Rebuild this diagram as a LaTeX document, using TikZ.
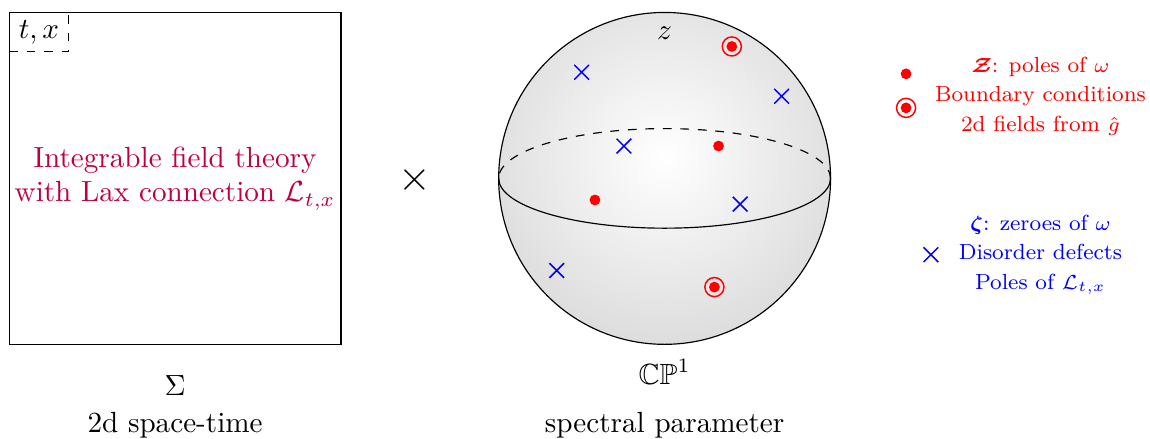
\documentclass[tikz,border=0pt]{standalone}
\usepackage{amsmath,amssymb,bm}
\usepackage{xcolor}
\usepackage{tikz}
\usetikzlibrary{shapes.misc}
\definecolor{IFTPurple}{HTML}{BF0040}
\definecolor{IFTRed}{HTML}{FF0000}
\definecolor{IFTBlue}{HTML}{0000FF}
\definecolor{IFTShade}{HTML}{DCDCDC}

\begin{document}
\begin{tikzpicture}[x=1cm,y=1cm,
  defect/.style={cross out,draw=IFTBlue,inner sep=0pt,minimum size=0.16cm,line width=0.5pt},
  pole/.style={circle,fill=IFTRed,inner sep=0pt,minimum size=0.13cm},
  bdry/.style={circle,draw=IFTRed,inner sep=0pt,minimum size=0.23cm,line width=0.5pt,
    path picture={\fill[IFTRed] (path picture bounding box.center) circle (0.065);}},
  legend/.style={align=center,font=\fontsize{7.5}{10.1}\selectfont}]
\path[use as bounding box] (0,0) rectangle (13.86,5.28);
\node[draw,inner sep=1pt,minimum width=4cm,minimum height=4cm,align=center,text=IFTPurple] (sigma) at (2.11,3.13) {Integrable field theory\\with Lax connection $\mathcal{L}_{t,x}$};
\node[draw,dashed,inner ysep=2.7pt,anchor=north west] (tx) at (sigma.north west) {$t,x$};
\node[anchor=base] (sigmalbl) at (2.11,0.51) {$\Sigma$};
\node[anchor=base] (sigmatxt) at (2.11,0.07) {2d space-time};
\node (times) at (5.00,3.11) {\Large$\times$};
\coordinate (cp) at (8.01,3.13);
\begin{scope}
\clip (cp) circle (2);
\shade[inner color=white,outer color=IFTShade] ([yshift=0.25cm]cp) circle (2.3);
\end{scope}
\draw (cp) circle (2);
\draw[dashed] ([xshift=2cm]cp) arc[start angle=0,end angle=180,x radius=2,y radius=0.6];
\draw ([xshift=-2cm]cp) arc[start angle=180,end angle=360,x radius=2,y radius=0.6];
\node[anchor=base] (zlbl) at (8.01,4.80) {$z$};
\node[defect] (d1) at (7.01,4.41) {};
\node[defect] (d2) at (9.42,4.12) {};
\node[defect] (d3) at (7.52,3.52) {};
\node[defect] (d4) at (8.92,2.82) {};
\node[defect] (d5) at (6.71,2.02) {};
\node[pole] (p1) at (8.66,3.52) {};
\node[pole] (p2) at (7.17,2.87) {};
\node[bdry] (b1) at (8.82,4.72) {};
\node[bdry] (b2) at (8.61,1.82) {};
\node[anchor=base] (cplbl) at (8.01,0.64) {$\mathbb{CP}^1$};
\node[anchor=base] (cptxt) at (8.01,0.07) {spectral parameter};
\node[legend,text=IFTRed] (zlgd) at (12.54,4.12) {$\bm{\mathcal{Z}}$: poles of $\omega$\\Boundary conditions\\2d fields from $\hat{g}$};
\node[pole] (zdot) at (10.92,4.39) {};
\node[bdry] (zring) at (10.92,3.98) {};
\node[legend,text=IFTBlue] (zetalgd) at (12.54,2.21) {$\bm{\zeta}$: zeroes of $\omega$\\Disorder defects\\Poles of $\mathcal{L}_{t,x}$};
\node[defect] (zetacross) at (11.22,2.21) {};
\end{tikzpicture}
\end{document}
